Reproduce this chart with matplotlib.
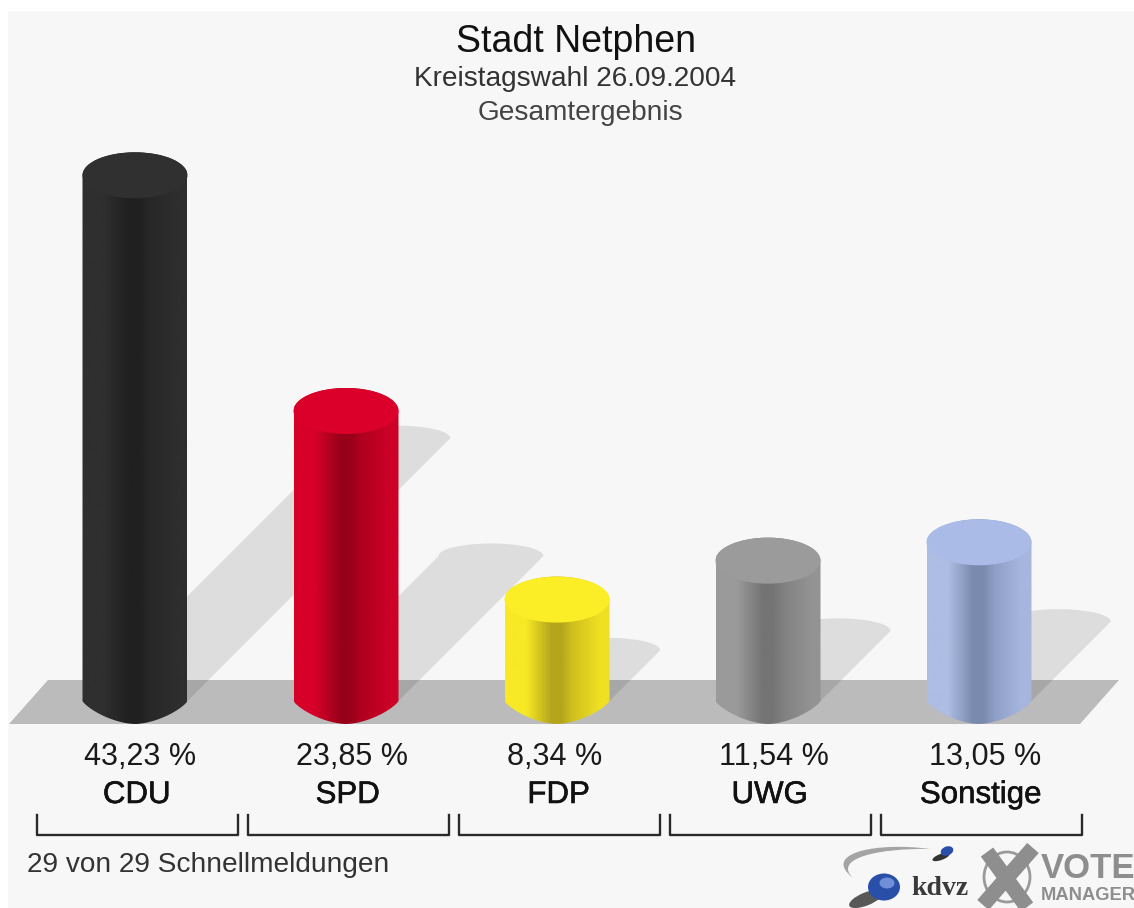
import numpy as np
from matplotlib import pyplot as plt
from matplotlib import patheffects
from matplotlib.colors import LinearSegmentedColormap
from matplotlib.patches import Ellipse, PathPatch, Polygon, Rectangle
from matplotlib.path import Path

plt.rcParams['font.family'] = ['Liberation Sans', 'DejaVu Sans']

parties = ['CDU', 'SPD', 'FDP', 'UWG', 'Sonstige']
values = [43.23, 23.85, 8.34, 11.54, 13.05]
value_labels = ['43,23 %', '23,85 %', '8,34 %', '11,54 %', '13,05 %']

# left edge, centre, just right of centre, right edge, top face
bar_colors = [
    ['#2f2f2f', '#202020', '#272727', '#2e2e2e', '#303030'],
    ['#d60029', '#98001a', '#ae001f', '#cc0027', '#da0029'],
    ['#f7e925', '#b5a51b', '#cfbf1e', '#efe022', '#fcee26'],
    ['#9a9a9a', '#747474', '#808080', '#939393', '#9b9b9b'],
    ['#aebde3', '#7a8aae', '#8e9ec6', '#a6b6de', '#a9bbe6'],
]
value_shift = [0.025, 0.03, -0.012, 0.03, 0.03]

W, H = 1134, 908
PX_PER_CAT = 211.0
PX_PER_PCT = 12.16
BASE_X, BASE_Y = 135.0, 701.0
HALF_W = 52.5 / PX_PER_CAT
CAP_H = 23.0 / PX_PER_PCT
SHADOW_CAP_H = 12.5 / PX_PER_PCT

medium = [patheffects.withStroke(linewidth=0.4, foreground='#111111')]


def cap_points(cx, cy, half_w, half_h, start, stop):
    t = np.radians(np.linspace(start, stop, 60))
    return np.column_stack([cx + half_w * np.cos(t), cy + half_h * np.sin(t)])


def bottom_points(cx, half_w, half_h):
    # bottom of the cylinder comes to a flatter point than an ellipse
    u = np.linspace(-1, 1, 81)
    return np.column_stack([cx + half_w * u, -half_h * (1 - np.abs(u) ** 1.7) ** 0.8])


fig = plt.figure(figsize=(W / 100, H / 100), dpi=100, facecolor='white')

# pixel layer for panel, floor and logo
bg = fig.add_axes([0, 0, 1, 1])
bg.set_xlim(0, W)
bg.set_ylim(H, 0)
bg.axis('off')
bg.add_patch(Rectangle((8, 11), W - 8, H - 11, fc='#f7f7f7', ec='none'))
bg.add_patch(Polygon([(9, 724), (1080, 724), (1119, 680), (48, 680)], fc='#bbbbbb', ec='none'))

# data layer
ax = fig.add_axes([0, 0, 1, 1])
ax.patch.set_alpha(0)
ax.axis('off')
ax.set_xlim(-BASE_X / PX_PER_CAT, (W - BASE_X) / PX_PER_CAT)
ax.set_ylim((BASE_Y - H) / PX_PER_PCT, BASE_Y / PX_PER_PCT)
ax.set_autoscale_on(False)
tr = ax.get_xaxis_transform()

for i, v in enumerate(values):
    # shadows: the cylinder sheared to the right at half its height
    off_x = 0.5 * v * PX_PER_PCT / PX_PER_CAT
    top = cap_points(i + off_x, 0.5 * v, HALF_W, SHADOW_CAP_H, 0, 180)
    outline = np.vstack([[[i + HALF_W, 0]], top, [[i - HALF_W, 0]]])
    ax.add_patch(Polygon(outline, fc='black', ec='none', alpha=0.1, zorder=1))

for i, v in enumerate(values):
    left, dark, mid, right, cap = bar_colors[i]
    cmap = LinearSegmentedColormap.from_list(
        'side', [(0, left), (0.2, left), (0.44, dark), (0.54, dark), (0.64, mid), (0.9, right), (1, right)])
    grad = np.linspace(0, 1, 256).reshape(1, -1)
    img = ax.imshow(grad, cmap=cmap, aspect='auto', zorder=3, interpolation='bilinear',
                    extent=[i - HALF_W, i + HALF_W, -CAP_H, v + CAP_H])
    lower = bottom_points(i, HALF_W, CAP_H)
    upper = cap_points(i, v, HALF_W, CAP_H, 0, 180)
    body = Polygon(np.vstack([lower, upper]), transform=ax.transData, fc='none', ec='none')
    ax.add_patch(body)
    img.set_clip_path(body)
    ax.add_patch(Ellipse((i, v), 2 * HALF_W, 2 * CAP_H, fc=cap, ec='none', zorder=4))

    ax.text(i + value_shift[i], 1 - 765 / H, value_labels[i], transform=tr,
            ha='center', va='baseline', fontsize=22, color='#1a1a1a')
    ax.text(i + 0.008, 1 - 803 / H, parties[i], transform=tr, ha='center', va='baseline',
            fontsize=22.5, color='#111111', path_effects=medium)
    ax.plot(np.array([-0.472, -0.472, 0.483, 0.483]) + i + 0.006,
            [1 - 815 / H, 1 - 835 / H, 1 - 835 / H, 1 - 815 / H],
            transform=tr, color='#2a2a2a', lw=1.7, clip_on=False, zorder=2)

bg.text(576, 52, 'Stadt Netphen', ha='center', va='baseline', fontsize=27, color='#111111')
bg.text(575, 86, 'Kreistagswahl 26.09.2004', ha='center', va='baseline', fontsize=20.2, color='#333333')
bg.text(580, 120, 'Gesamtergebnis', ha='center', va='baseline', fontsize=20.2, color='#444444')
bg.text(27, 872, '29 von 29 Schnellmeldungen', ha='left', va='baseline', fontsize=20.2, color='#333333')

# logo
swoosh = Path([(930, 849), (880, 842), (820, 852), (853, 878),
               (832, 858), (880, 848), (930, 849)],
              [Path.MOVETO, Path.CURVE4, Path.CURVE4, Path.CURVE4,
               Path.CURVE4, Path.CURVE4, Path.CURVE4])
bg.add_patch(PathPatch(swoosh, fc='#a4a4a4', ec='none'))
bg.add_patch(Ellipse((866, 899), 36, 13, angle=-22, fc='#303030', ec='none', alpha=0.8))
bg.add_patch(Ellipse((884, 887), 32, 27, fc='#2a4fa8', ec='none'))
bg.add_patch(Ellipse((887, 883), 15, 11, fc='#6f8fd8', ec='none'))
bg.add_patch(Ellipse((941, 857), 18, 6, angle=-20, fc='#333333', ec='none'))
bg.add_patch(Ellipse((947, 851), 13, 9, angle=-20, fc='#2a4fa8', ec='none'))
bg.text(940, 895, 'kdvz', ha='center', va='baseline', fontsize=20, fontweight='bold',
        family='Liberation Serif', color='#3a3a3a')
bg.add_patch(Ellipse((1007, 877), 46, 50, fc='none', ec='#9a9a9a', lw=2))
bg.plot([987, 1027], [852, 907], color='#8e8e8e', lw=11, solid_capstyle='butt')
bg.plot([1033, 983], [848, 905], color='#8e8e8e', lw=11, solid_capstyle='butt')
bg.text(1041, 878, 'VOTE', ha='left', va='baseline', fontsize=25, fontweight='bold', color='#8e8e8e', clip_on=True)
bg.text(1041, 900, 'MANAGER', ha='left', va='baseline', fontsize=13.2, fontweight='bold', color='#8e8e8e', clip_on=True)

fig.savefig('out.png', dpi=100)
